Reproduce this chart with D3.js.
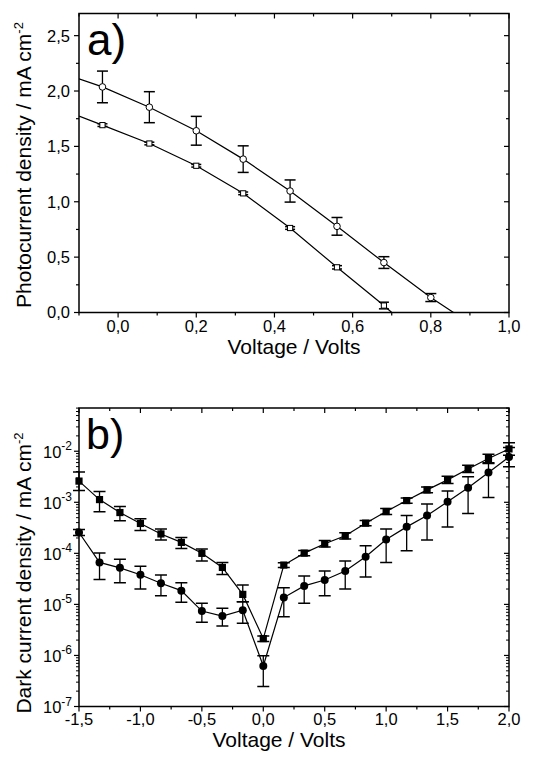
<!DOCTYPE html>
<html><head><meta charset="utf-8">
<script src="https://cdn.jsdelivr.net/npm/d3@7"></script>
<style>
body{margin:0;background:#fff}
svg{display:block}
text{font-family:"Liberation Sans",Arial,sans-serif;fill:#000}
</style>
</head><body>
<svg id="chart" width="543" height="759"></svg>
<script>
// ---------- Panel a) photocurrent ----------
const aCircleV   = [-0.04, 0.08, 0.20, 0.32, 0.44, 0.56, 0.68, 0.80];
const aCircleJ   = [2.037, 1.854, 1.641, 1.385, 1.097, 0.778, 0.451, 0.135];
const aCircleErr = [0.143, 0.140, 0.130, 0.120, 0.100, 0.080, 0.053, 0.036];
const aSquareV   = [-0.04, 0.08, 0.20, 0.32, 0.44, 0.56, 0.68];
const aSquareJ   = [1.692, 1.526, 1.325, 1.076, 0.763, 0.408, 0.063];
const aSquareErr = [0.012, 0.012, 0.012, 0.012, 0.012, 0.015, 0.030];
// line extensions (start at left edge, end at zero crossing)
const aCircleLineEnds = [[-0.1, 2.11], [0.858, 0]];
const aSquareLineEnds = [[-0.1, 1.773], [0.70, 0]];
const aXTicks = [0.0, 0.2, 0.4, 0.6, 0.8, 1.0];
const aXMinor = [-0.1, 0.1, 0.3, 0.5, 0.7, 0.9];
const aYTicks = [0.0, 0.5, 1.0, 1.5, 2.0, 2.5];
const aYMinor = [0.25, 0.75, 1.25, 1.75, 2.25];

// ---------- Panel b) dark current ----------
const bV = [-1.5, -1.333, -1.167, -1.0, -0.833, -0.667, -0.5, -0.333, -0.167, 0.0,
            0.167, 0.333, 0.5, 0.667, 0.833, 1.0, 1.167, 1.333, 1.5, 1.667, 1.833, 2.0];
const bSquareJ  = [2.6e-3, 1.13e-3, 6.3e-4, 3.85e-4, 2.4e-4, 1.64e-4, 1.0e-4, 5.3e-5, 1.57e-5, 2.14e-6,
                   5.9e-5, 1.01e-4, 1.54e-4, 2.21e-4, 3.9e-4, 6.6e-4, 1.08e-3, 1.75e-3, 2.75e-3, 4.5e-3, 7.2e-3, 1.11e-2];
const bSquareHi = [3.94e-3, 1.63e-3, 8.3e-4, 4.75e-4, 2.99e-4, 2.05e-4, 1.21e-4, 6.65e-5, 2.39e-5, 2.41e-6,
                   6.55e-5, 1.14e-4, 1.79e-4, 2.53e-4, 4.41e-4, 7.57e-4, 1.22e-3, 2.0e-3, 3.24e-3, 5.32e-3, 8.73e-3, 1.46e-2];
const bSquareLo = [1.7e-3, 6.5e-4, 4.35e-4, 2.81e-4, 1.82e-4, 1.25e-4, 7.06e-5, 3.87e-5, 1.13e-5, 1.87e-6,
                   5.3e-5, 8.97e-5, 1.33e-4, 1.9e-4, 3.47e-4, 5.77e-4, 9.6e-4, 1.53e-3, 2.33e-3, 3.83e-3, 5.92e-3, 8.36e-3];
const bCircleJ  = [2.56e-4, 6.65e-5, 5.2e-5, 3.8e-5, 2.6e-5, 1.86e-5, 7.4e-6, 5.9e-6, 7.7e-6, 6.2e-7,
                   1.36e-5, 2.3e-5, 3.0e-5, 4.5e-5, 8.6e-5, 1.87e-4, 3.3e-4, 5.5e-4, 1.02e-3, 1.92e-3, 3.83e-3, 7.7e-3];
const bCircleHi = [2.94e-4, 1.01e-4, 7.7e-5, 5.6e-5, 3.76e-5, 2.66e-5, 1.05e-5, 8.4e-6, 1.13e-5, 9.9e-7,
                   2.12e-5, 3.59e-5, 4.5e-5, 7.06e-5, 1.41e-4, 2.99e-4, 5.52e-4, 9.3e-4, 1.67e-3, 3.15e-3, 5.74e-3, 1.18e-2];
const bCircleLo = [2.24e-4, 3.09e-5, 2.66e-5, 2.0e-5, 1.48e-5, 1.10e-5, 4.46e-6, 3.78e-6, 4.27e-6, 2.46e-7,
                   5.75e-6, 1.05e-5, 1.48e-5, 2.0e-5, 3.44e-5, 6.65e-5, 1.12e-4, 1.82e-4, 3.27e-4, 6.04e-4, 1.24e-3, 4.94e-3];
const bXTicks = [-1.5, -1.0, -0.5, 0.0, 0.5, 1.0, 1.5, 2.0];
const bXMinor = [-1.25, -0.75, -0.25, 0.25, 0.75, 1.25, 1.75];
const bYExp = [-7, -6, -5, -4, -3, -2];

// ---------- drawing ----------
const svg = d3.select("#chart");
const fmt = v => v.toFixed(1).replace(".", ",");
const FONT_TICK = 16.5, FONT_TITLE = 21;

function frame(g, x, y, left, right, top, bottom) {
  g.append("rect").attr("x", left).attr("y", top).attr("width", right - left).attr("height", bottom - top)
    .attr("fill", "none").attr("stroke", "#000").attr("stroke-width", 1.5);
}
function ticksX(g, x, vals, top, bottom, len) {
  vals.forEach(v => {
    const px = x(v);
    g.append("line").attr("x1", px).attr("x2", px).attr("y1", bottom).attr("y2", bottom + len)
      .attr("stroke", "#000").attr("stroke-width", 1.2);
    g.append("line").attr("x1", px).attr("x2", px).attr("y1", top).attr("y2", top + len)
      .attr("stroke", "#000").attr("stroke-width", 1.2);
  });
}
function ticksY(g, y, vals, left, right, len) {
  vals.forEach(v => {
    const py = y(v);
    g.append("line").attr("x1", left - len).attr("x2", left).attr("y1", py).attr("y2", py)
      .attr("stroke", "#000").attr("stroke-width", 1.2);
    g.append("line").attr("x1", right - len).attr("x2", right).attr("y1", py).attr("y2", py)
      .attr("stroke", "#000").attr("stroke-width", 1.2);
  });
}
function errBars(g, x, y, xs, lo, hi, cap) {
  xs.forEach((v, i) => {
    const px = x(v), y1 = y(lo[i]), y2 = y(hi[i]);
    g.append("line").attr("x1", px).attr("x2", px).attr("y1", y1).attr("y2", y2)
      .attr("stroke", "#000").attr("stroke-width", 1.3);
    [y1, y2].forEach(yy => g.append("line").attr("x1", px - cap).attr("x2", px + cap)
      .attr("y1", yy).attr("y2", yy).attr("stroke", "#000").attr("stroke-width", 1.5));
  });
}

// ===== Panel a =====
{
  const L = 79, R = 509, T = 13.5, B = 312.5;
  const x = d3.scaleLinear().domain([-0.1, 1.0]).range([L, R]);
  const y = d3.scaleLinear().domain([0, 2.7]).range([B, T]);
  const g = svg.append("g");
  const clip = svg.append("clipPath").attr("id", "clipA").append("rect")
    .attr("x", L).attr("y", T).attr("width", R - L).attr("height", B - T);

  const line = d3.line().x(d => x(d[0])).y(d => y(d[1]));
  const cPts = [aCircleLineEnds[0], ...aCircleV.map((v, i) => [v, aCircleJ[i]]), aCircleLineEnds[1]];
  const sPts = [aSquareLineEnds[0], ...aSquareV.map((v, i) => [v, aSquareJ[i]]), aSquareLineEnds[1]];
  const lg = g.append("g").attr("clip-path", "url(#clipA)");
  lg.append("path").attr("d", line(cPts)).attr("fill", "none").attr("stroke", "#000").attr("stroke-width", 1.2);
  lg.append("path").attr("d", line(sPts)).attr("fill", "none").attr("stroke", "#000").attr("stroke-width", 1.2);

  errBars(g, x, y, aCircleV, aCircleJ.map((v, i) => v - aCircleErr[i]), aCircleJ.map((v, i) => v + aCircleErr[i]), 5.5);
  errBars(g, x, y, aSquareV, aSquareJ.map((v, i) => v - aSquareErr[i]), aSquareJ.map((v, i) => v + aSquareErr[i]), 5);

  aSquareV.forEach((v, i) => g.append("rect").attr("x", x(v) - 2.6).attr("y", y(aSquareJ[i]) - 2.6)
    .attr("width", 5.2).attr("height", 5.2).attr("fill", "#fff").attr("stroke", "#000").attr("stroke-width", 1));
  aCircleV.forEach((v, i) => g.append("circle").attr("cx", x(v)).attr("cy", y(aCircleJ[i])).attr("r", 3.3)
    .attr("fill", "#fff").attr("stroke", "#000").attr("stroke-width", 1));

  frame(g, x, y, L, R, T, B);
  // major ticks: out on bottom/left, in on top/right
  aXTicks.forEach(v => {
    g.append("line").attr("x1", x(v)).attr("x2", x(v)).attr("y1", B).attr("y2", B + 5).attr("stroke", "#000").attr("stroke-width", 1.2);
    g.append("line").attr("x1", x(v)).attr("x2", x(v)).attr("y1", T).attr("y2", T + 5).attr("stroke", "#000").attr("stroke-width", 1.2);
    g.append("text").attr("x", x(v)).attr("y", B + 19).attr("text-anchor", "middle").attr("font-size", FONT_TICK).text(fmt(v));
  });
  aXMinor.forEach(v => {
    g.append("line").attr("x1", x(v)).attr("x2", x(v)).attr("y1", B).attr("y2", B + 3).attr("stroke", "#000").attr("stroke-width", 1.2);
    g.append("line").attr("x1", x(v)).attr("x2", x(v)).attr("y1", T).attr("y2", T + 3).attr("stroke", "#000").attr("stroke-width", 1.2);
  });
  aYTicks.forEach(v => {
    g.append("line").attr("x1", L - 5).attr("x2", L).attr("y1", y(v)).attr("y2", y(v)).attr("stroke", "#000").attr("stroke-width", 1.2);
    g.append("line").attr("x1", R - 5).attr("x2", R).attr("y1", y(v)).attr("y2", y(v)).attr("stroke", "#000").attr("stroke-width", 1.2);
    g.append("text").attr("x", L - 9).attr("y", y(v)).attr("dy", "0.36em").attr("text-anchor", "end").attr("font-size", FONT_TICK).text(fmt(v));
  });
  aYMinor.forEach(v => {
    g.append("line").attr("x1", L - 3).attr("x2", L).attr("y1", y(v)).attr("y2", y(v)).attr("stroke", "#000").attr("stroke-width", 1.2);
    g.append("line").attr("x1", R - 3).attr("x2", R).attr("y1", y(v)).attr("y2", y(v)).attr("stroke", "#000").attr("stroke-width", 1.2);
  });

  g.append("text").attr("x", 294).attr("y", B + 41).attr("text-anchor", "middle").attr("font-size", FONT_TITLE).text("Voltage / Volts");
  const yl = g.append("text").attr("transform", `translate(31,${(T + B) / 2 + 2}) rotate(-90)`).attr("text-anchor", "middle").attr("font-size", FONT_TITLE);
  yl.append("tspan").text("Photocurrent density / mA cm");
  yl.append("tspan").attr("dy", "-0.6em").attr("font-size", 13).text("-2");
  g.append("text").attr("x", 87).attr("y", 55).attr("font-size", 44).text("a)");
}

// ===== Panel b =====
{
  const L = 79, R = 509, T = 408, B = 706.5;
  const x = d3.scaleLinear().domain([-1.5, 2.0]).range([L, R]);
  const y = d3.scaleLog().domain([1e-7, 0.0703]).range([B, T]);
  const g = svg.append("g");
  svg.append("clipPath").attr("id", "clipB").append("rect")
    .attr("x", L - 8).attr("y", T).attr("width", R - L + 16).attr("height", B - T + 20);

  const line = d3.line().x(d => x(d[0])).y(d => y(d[1]));
  const lg = g.append("g");
  lg.append("path").attr("d", line(bV.map((v, i) => [v, bSquareJ[i]]))).attr("fill", "none").attr("stroke", "#000").attr("stroke-width", 1.2);
  lg.append("path").attr("d", line(bV.map((v, i) => [v, bCircleJ[i]]))).attr("fill", "none").attr("stroke", "#000").attr("stroke-width", 1.2);

  const eg = g.append("g").attr("clip-path", "url(#clipB)");
  errBars(eg, x, y, bV, bSquareLo, bSquareHi, 6);
  errBars(eg, x, y, bV, bCircleLo, bCircleHi, 6);

  bV.forEach((v, i) => g.append("rect").attr("x", x(v) - 3.6).attr("y", y(bSquareJ[i]) - 3.6)
    .attr("width", 7.2).attr("height", 7.2).attr("fill", "#000"));
  bV.forEach((v, i) => g.append("circle").attr("cx", x(v)).attr("cy", y(bCircleJ[i])).attr("r", 4).attr("fill", "#000"));

  frame(g, x, y, L, R, T, B);
  bXTicks.forEach(v => {
    g.append("line").attr("x1", x(v)).attr("x2", x(v)).attr("y1", B).attr("y2", B + 5).attr("stroke", "#000").attr("stroke-width", 1.2);
    g.append("line").attr("x1", x(v)).attr("x2", x(v)).attr("y1", T).attr("y2", T + 5).attr("stroke", "#000").attr("stroke-width", 1.2);
    g.append("text").attr("x", x(v)).attr("y", B + 18.5).attr("text-anchor", "middle").attr("font-size", FONT_TICK).text(fmt(v));
  });
  bXMinor.forEach(v => {
    g.append("line").attr("x1", x(v)).attr("x2", x(v)).attr("y1", B).attr("y2", B + 3).attr("stroke", "#000").attr("stroke-width", 1.2);
    g.append("line").attr("x1", x(v)).attr("x2", x(v)).attr("y1", T).attr("y2", T + 3).attr("stroke", "#000").attr("stroke-width", 1.2);
  });
  const [d0, d1] = y.domain();
  bYExp.forEach(e => {
    const v = Math.pow(10, e);
    g.append("line").attr("x1", L - 5).attr("x2", L).attr("y1", y(v)).attr("y2", y(v)).attr("stroke", "#000").attr("stroke-width", 1.2);
    g.append("line").attr("x1", R - 5).attr("x2", R).attr("y1", y(v)).attr("y2", y(v)).attr("stroke", "#000").attr("stroke-width", 1.2);
    const t = g.append("text").attr("x", 43).attr("y", y(v) + 6.3).attr("font-size", FONT_TICK);
    t.append("tspan").text("10");
    t.append("tspan").attr("dy", -7.3).attr("font-size", 12).text("-" + Math.abs(e));
    for (let k = 2; k <= 9; k++) {
      const m = k * v;
      if (m < d0 || m > d1) continue;
      g.append("line").attr("x1", L - 3).attr("x2", L).attr("y1", y(m)).attr("y2", y(m)).attr("stroke", "#000").attr("stroke-width", 1);
      g.append("line").attr("x1", R - 3).attr("x2", R).attr("y1", y(m)).attr("y2", y(m)).attr("stroke", "#000").attr("stroke-width", 1);
    }
  });

  g.append("text").attr("x", 279).attr("y", B + 40).attr("text-anchor", "middle").attr("font-size", FONT_TITLE).text("Voltage / Volts");
  const yl = g.append("text").attr("transform", `translate(31,573) rotate(-90)`).attr("text-anchor", "middle").attr("font-size", FONT_TITLE);
  yl.append("tspan").text("Dark current density / mA cm");
  yl.append("tspan").attr("dy", "-0.6em").attr("font-size", 13).text("-2");
  g.append("text").attr("x", 86).attr("y", 449).attr("font-size", 43).text("b)");
}
</script>
</body></html>
